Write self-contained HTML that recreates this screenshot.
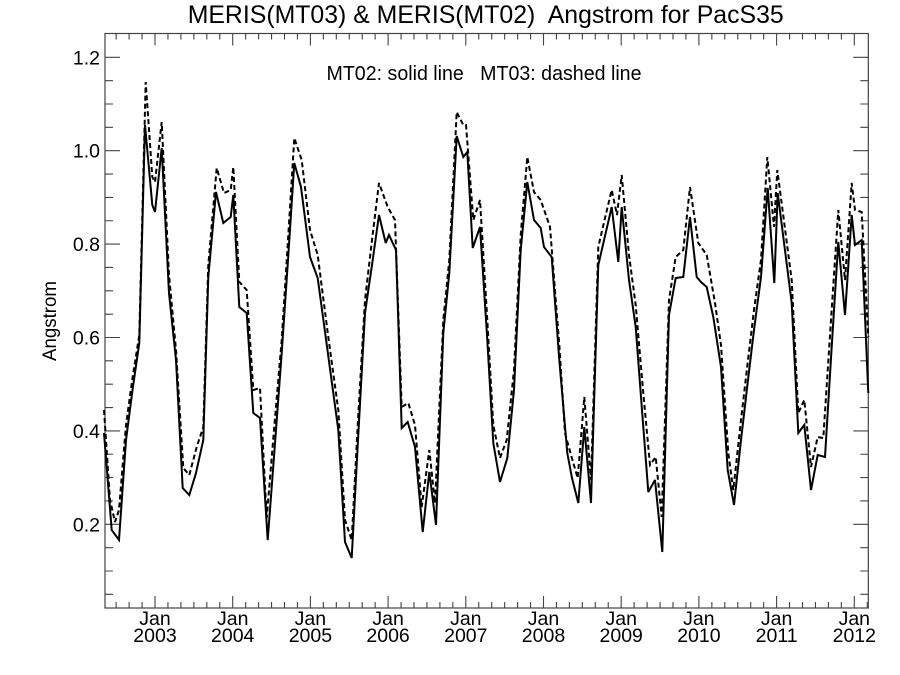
<!DOCTYPE html>
<html>
<head>
<meta charset="utf-8">
<style>
html,body{margin:0;padding:0;background:#fff;}
svg{display:block;}
text{font-family:"Liberation Sans",Arial,Helvetica,sans-serif;fill:#000;}
</style>
</head>
<body>
<svg width="900" height="675" viewBox="0 0 900 675" xmlns="http://www.w3.org/2000/svg">
<rect x="0" y="0" width="900" height="675" fill="#fff"/>

<!-- Title -->
<text x="187.7" y="23" font-size="25" textLength="596" lengthAdjust="spacingAndGlyphs" xml:space="preserve" style="white-space:pre">MERIS(MT03) &amp; MERIS(MT02)  Angstrom for PacS35</text>

<!-- Legend text -->
<text x="326.5" y="80" font-size="20" textLength="315" lengthAdjust="spacingAndGlyphs" xml:space="preserve" style="white-space:pre">MT02: solid line   MT03: dashed line</text>

<!-- Plot box -->
<rect x="105" y="33.5" width="763.3" height="574.5" fill="none" stroke="#444" stroke-width="1.2"/>

<!-- Ticks -->
<g stroke="#444" stroke-width="1.1" fill="none">
  <path d="M105,57.3h15 M105,150.7h15 M105,244.1h15 M105,337.5h15 M105,430.9h15 M105,524.3h15
           M868.3,57.3h-15 M868.3,150.7h-15 M868.3,244.1h-15 M868.3,337.5h-15 M868.3,430.9h-15 M868.3,524.3h-15"/>
  <path d="M105,594.35h8 M105,571h8 M105,547.65h8
           M105,500.95h8 M105,477.6h8 M105,454.25h8
           M105,407.55h8 M105,384.2h8 M105,360.85h8
           M105,314.15h8 M105,290.8h8 M105,267.45h8
           M105,220.75h8 M105,197.4h8 M105,174.05h8
           M105,127.35h8 M105,104h8 M105,80.65h8
           M868.3,594.35h-8 M868.3,571h-8 M868.3,547.65h-8
           M868.3,500.95h-8 M868.3,477.6h-8 M868.3,454.25h-8
           M868.3,407.55h-8 M868.3,384.2h-8 M868.3,360.85h-8
           M868.3,314.15h-8 M868.3,290.8h-8 M868.3,267.45h-8
           M868.3,220.75h-8 M868.3,197.4h-8 M868.3,174.05h-8
           M868.3,127.35h-8 M868.3,104h-8 M868.3,80.65h-8"/>
  <path d="M155,608v-12 M232.7,608v-12 M310.4,608v-12 M388.1,608v-12 M465.8,608v-12 M543.5,608v-12 M621.2,608v-12 M698.9,608v-12 M776.6,608v-12 M854.3,608v-12
           M155,33.5v12 M232.7,33.5v12 M310.4,33.5v12 M388.1,33.5v12 M465.8,33.5v12 M543.5,33.5v12 M621.2,33.5v12 M698.9,33.5v12 M776.6,33.5v12 M854.3,33.5v12"/>
  <path d="
    M116.15,608v-6 M129.1,608v-6 M142.05,608v-6
    M167.95,608v-6 M180.9,608v-6 M193.85,608v-6 M206.8,608v-6 M219.75,608v-6
    M245.65,608v-6 M258.6,608v-6 M271.55,608v-6 M284.5,608v-6 M297.45,608v-6
    M323.35,608v-6 M336.3,608v-6 M349.25,608v-6 M362.2,608v-6 M375.15,608v-6
    M401.05,608v-6 M414,608v-6 M426.95,608v-6 M439.9,608v-6 M452.85,608v-6
    M478.75,608v-6 M491.7,608v-6 M504.65,608v-6 M517.6,608v-6 M530.55,608v-6
    M556.45,608v-6 M569.4,608v-6 M582.35,608v-6 M595.3,608v-6 M608.25,608v-6
    M634.15,608v-6 M647.1,608v-6 M660.05,608v-6 M673,608v-6 M685.95,608v-6
    M711.85,608v-6 M724.8,608v-6 M737.75,608v-6 M750.7,608v-6 M763.65,608v-6
    M789.55,608v-6 M802.5,608v-6 M815.45,608v-6 M828.4,608v-6 M841.35,608v-6
    M867.25,608v-6
    M116.15,33.5v6 M129.1,33.5v6 M142.05,33.5v6
    M167.95,33.5v6 M180.9,33.5v6 M193.85,33.5v6 M206.8,33.5v6 M219.75,33.5v6
    M245.65,33.5v6 M258.6,33.5v6 M271.55,33.5v6 M284.5,33.5v6 M297.45,33.5v6
    M323.35,33.5v6 M336.3,33.5v6 M349.25,33.5v6 M362.2,33.5v6 M375.15,33.5v6
    M401.05,33.5v6 M414,33.5v6 M426.95,33.5v6 M439.9,33.5v6 M452.85,33.5v6
    M478.75,33.5v6 M491.7,33.5v6 M504.65,33.5v6 M517.6,33.5v6 M530.55,33.5v6
    M556.45,33.5v6 M569.4,33.5v6 M582.35,33.5v6 M595.3,33.5v6 M608.25,33.5v6
    M634.15,33.5v6 M647.1,33.5v6 M660.05,33.5v6 M673,33.5v6 M685.95,33.5v6
    M711.85,33.5v6 M724.8,33.5v6 M737.75,33.5v6 M750.7,33.5v6 M763.65,33.5v6
    M789.55,33.5v6 M802.5,33.5v6 M815.45,33.5v6 M828.4,33.5v6 M841.35,33.5v6"/>
</g>

<!-- Y tick labels -->
<g font-size="19.5" text-anchor="end">
  <text x="100" y="64.3">1.2</text>
  <text x="100" y="157.7">1.0</text>
  <text x="100" y="251.1">0.8</text>
  <text x="100" y="344.5">0.6</text>
  <text x="100" y="437.9">0.4</text>
  <text x="100" y="531.3">0.2</text>
</g>

<!-- Y axis label -->
<text transform="translate(56,321) rotate(-90)" text-anchor="middle" font-size="19.5" textLength="80" lengthAdjust="spacingAndGlyphs">Angstrom</text>

<!-- X tick labels -->
<g font-size="19.5" text-anchor="middle">
  <text x="155" y="625">Jan</text><text x="155" y="642">2003</text>
  <text x="232.7" y="625">Jan</text><text x="232.7" y="642">2004</text>
  <text x="310.4" y="625">Jan</text><text x="310.4" y="642">2005</text>
  <text x="388.1" y="625">Jan</text><text x="388.1" y="642">2006</text>
  <text x="465.8" y="625">Jan</text><text x="465.8" y="642">2007</text>
  <text x="543.5" y="625">Jan</text><text x="543.5" y="642">2008</text>
  <text x="621.2" y="625">Jan</text><text x="621.2" y="642">2009</text>
  <text x="698.9" y="625">Jan</text><text x="698.9" y="642">2010</text>
  <text x="776.6" y="625">Jan</text><text x="776.6" y="642">2011</text>
  <text x="854.3" y="625">Jan</text><text x="854.3" y="642">2012</text>
</g>

<!-- MT02 solid -->
<polyline fill="none" stroke="#000" stroke-width="2" stroke-linejoin="miter" stroke-miterlimit="3" points="
104,433 111.7,530 119,540 126,440 132.5,390 139.3,343 145,125 152.3,205 155,212 161.7,148 169,293 176,360
182.7,488 189.3,495 196,473 203.3,440 208.3,277 216,192 223.3,223 230.7,217 233.3,195 239.3,307 246.7,313
253.3,413 260,418 267.7,540 274.5,450 281.7,353 288,260 294.3,163 301,187 310,257 317.7,278 328,354 338.3,430 345,542
351.7,558 358,440 365,313 372,265 379,215 385.7,243 389,235 396,250 401.7,428 407.7,422 415,447 422.7,532 429.3,472
436,525 443.3,333 449.3,273 456.7,136 463.3,157 467.3,152 472.7,248 480,227 487,335 493.3,443 500,482 507.3,458
514,390 520.7,250 527.3,182 534,220 540.7,228 544,247 551.7,257 559.3,360 567.3,453 572,478 578.3,503 584.3,427
591,503 598.3,265 605,236 611.7,207 618.3,262 621.7,207 629,280 635.7,327 642,410 648.3,492 655,480 662.3,552
669,315 675.7,278 683.3,277 690,217 696.7,277 701,282 706.7,287 713.3,317 721,367 727.7,470 734,505 741,440 748,380 754,330
761,277 767.7,188 774.3,283 777.7,193 791.7,303 798.3,433 804.3,425 811,490 817.7,455 825,457 831.5,350 838.3,242
845,315 851.7,215 855,245 861.7,240 868.3,393"/>

<!-- MT03 dashed -->
<polyline fill="none" stroke="#000" stroke-width="2" stroke-dasharray="5,3" stroke-linejoin="miter" stroke-miterlimit="3" points="
104,410 110,500 115,522 119,510 126,425 132.5,378 139.3,335 145.7,82 152.3,177 155,182 161.7,122 169,275 176,350
183.3,468 189.3,475 196.7,447 203.3,427 208.3,265 216.7,168 224,193 230.7,190 233.3,167 239.3,282 246.7,290
253.3,390 260,388 266.7,518 274,430 281.7,340 288,240 294.3,138 301.7,160 310,230 317.7,255 328,335 338.3,410 345,520
351.7,540 358,420 365,300 372,240 379,183 387.7,207 395,220 401.7,407 408.3,403 415,425 421.7,507 429.3,450
435,503 443.3,320 449.3,260 456.7,112 463.3,125 466,125 473.3,220 480,200 487,315 493.3,425 500,458 506.7,440
514,370 520.7,235 527.3,157 534,192 540.7,200 550,227 559.3,345 565,433 571,455 577.7,478 584.3,397
591,480 598.3,247 605,218 611.7,190 617,215 621.7,175 629,255 635.7,305 643,390 650,465 655.7,457 661.7,517
669,300 675.7,257 683.3,250 690,187 698.3,243 706.7,255 715,303 721,345 728.3,453 733.3,490 741,420 748,360 754,310
761,260 767.3,157 774,227 777.3,170 791.7,280 798.3,413 804.3,400 811,467 817.7,437 823.3,438 831,320 838.3,210
845,280 851.7,183 855,210 861.7,212 868.3,337"/>
</svg>
</body>
</html>
